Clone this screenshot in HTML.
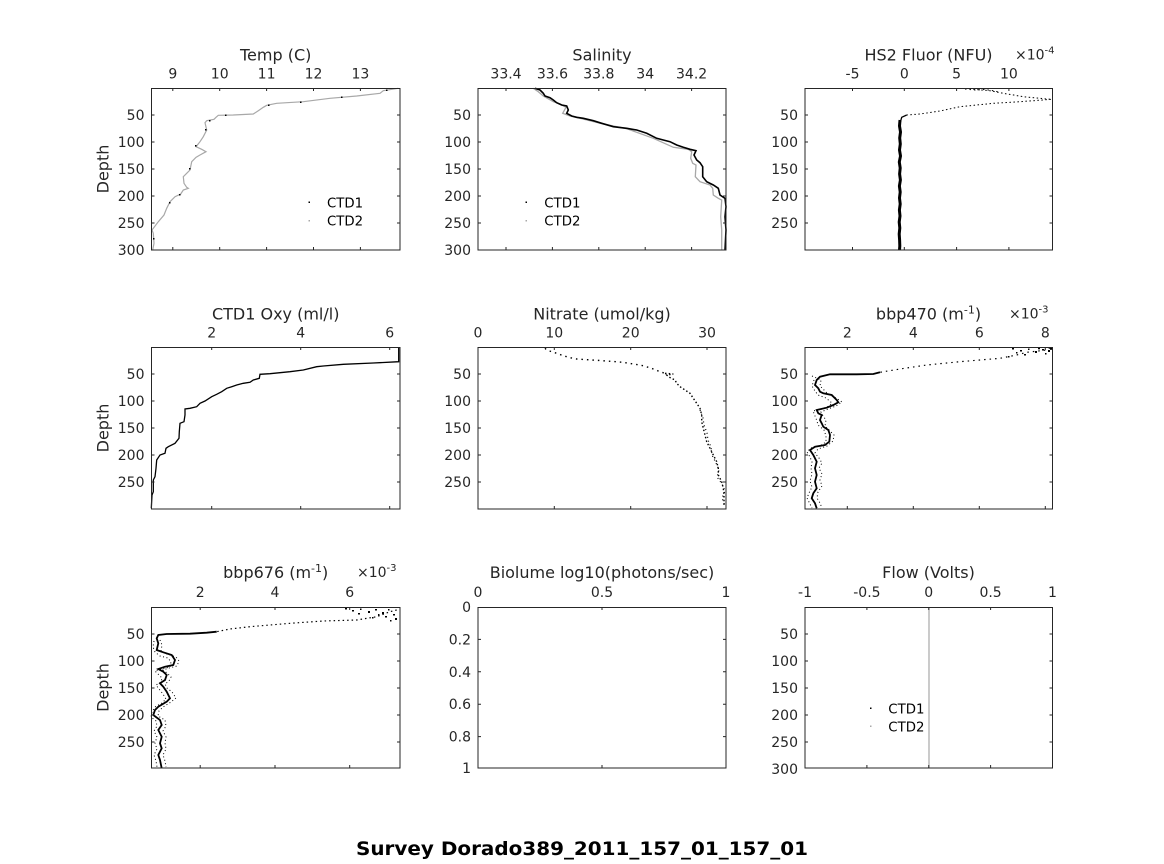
<!DOCTYPE html>
<html>
<head>
<meta charset="utf-8">
<style>
html,body{margin:0;padding:0;background:#fff;}
svg{display:block;}
text{font-family:"DejaVu Sans","Liberation Sans",sans-serif;fill:#262626;}
</style>
</head>
<body>
<svg width="1164" height="864" viewBox="0 0 1164 864" xmlns="http://www.w3.org/2000/svg">
<rect width="1164" height="864" fill="#fff"/>

<!-- ================= ROW 1 ================= -->
<!-- Temp -->
<polyline fill="none" stroke="#a8a8a8" stroke-width="1.2" points="398.3,88.3 383.3,90.7 380,93.3 356.7,96 330,98.3 303.3,101.7 276.7,103.3 266.7,105.3 263.3,107.3 258.3,110.7 253.3,114 233.3,115 218.3,115.3 216,117.3 214,119.3 206.7,120.7 205,122.7 206.7,130 203.3,136.7 200,141.7 196,146.7 201.7,149.3 206,151.7 200,155 196,157.3 191.7,161.7 190,170 186.7,173.3 183.3,176.7 184,183.3 186.7,187.3 188.3,188.3 183.3,190 180.7,194 175,196.7 170,201.7 166.7,208.3 164,215 158.3,221.7 153.3,228.3 152,230 153.3,233.3 154,243.3 152.7,250"/>
<g fill="#000">
<rect x="386" y="89.5" width="1.5" height="1.5"/><rect x="341" y="96.5" width="1.5" height="1.5"/><rect x="300" y="101.5" width="1.5" height="1.5"/><rect x="268" y="104.5" width="1.5" height="1.5"/><rect x="225" y="114.5" width="1.5" height="1.5"/><rect x="209" y="120" width="1.5" height="1.5"/><rect x="205" y="129" width="1.5" height="1.5"/><rect x="195" y="145" width="1.5" height="1.5"/><rect x="189" y="168" width="1.5" height="1.5"/><rect x="179" y="194" width="1.5" height="1.5"/><rect x="169" y="202" width="1.5" height="1.5"/><rect x="153" y="238" width="1.5" height="1.5"/>
</g>
<rect x="151.5" y="88.5" width="248.5" height="161.5" fill="none" stroke="#262626" stroke-width="1"/>
<path stroke="#262626" stroke-width="1" fill="none" d="M172.8 88v3M219.7 88v3M266.6 88v3M313.5 88v3M360.4 88v3M172.8 250v-3M219.7 250v-3M266.6 250v-3M313.5 250v-3M360.4 250v-3M151.5 115h3M151.5 142h3M151.5 169h3M151.5 196h3M151.5 223h3M400 115h-3M400 142h-3M400 169h-3M400 196h-3M400 223h-3"/>
<text x="275.7" y="60.5" font-size="16" text-anchor="middle">Temp (C)</text>
<g font-size="14" text-anchor="middle">
<text x="172.8" y="78.3">9</text><text x="219.7" y="78.3">10</text><text x="266.6" y="78.3">11</text><text x="313.5" y="78.3">12</text><text x="360.4" y="78.3">13</text>
</g>
<g font-size="14" text-anchor="end">
<text x="144.5" y="120">50</text><text x="144.5" y="147">100</text><text x="144.5" y="174">150</text><text x="144.5" y="201">200</text><text x="144.5" y="228">250</text><text x="144.5" y="255">300</text>
</g>
<text transform="translate(108.5,169) rotate(-90)" font-size="16" text-anchor="middle">Depth</text>
<rect x="308.5" y="201.5" width="1.5" height="1.5" fill="#000"/>
<rect x="308.5" y="220" width="1.5" height="1.5" fill="#a8a8a8"/>
<text x="327" y="207.3" font-size="13.3" style="fill:#000">CTD1</text>
<text x="327" y="225.3" font-size="13.3" style="fill:#000">CTD2</text>

<!-- Salinity -->
<polyline fill="none" stroke="#a8a8a8" stroke-width="1.3" points="533.3,88.3 538.3,91.7 543.3,96 553.3,101.7 560,104 566,107.3 562.7,113.3 570,116 580,118.3 600,123.3 626.7,128.7 653.3,138.3 673.3,147.3 688.3,149.3 691.7,151.7 690.7,158.3 692.7,163.3 696,165 695.3,176.7 700,181.7 710,185 712.7,188.3 713.3,195 718.3,198.3 721.7,200 720.7,216.7 721.7,230 721.7,250"/>
<polyline fill="none" stroke="#000" stroke-width="1.6" points="535,88.3 540,90 543.3,93.3 545,96 550,97.7 553.3,100 556.7,102.7 561.7,105 566.7,106 568.3,110 566.7,113.3 571.7,116 576.7,117.3 583.3,118.3 593.3,120.7 601.7,123.3 613.3,126.7 626.7,128.3 636.7,130 646.7,133.3 656.7,138.3 663.3,140 670,141.7 676.7,145 683.3,147.3 690,149.3 696,150.7 694,155 696.7,160 700,162.7 702.7,166.7 702.7,176.7 706.7,181.7 713.3,185 718.3,188.3 720,195 725,198.3 726,206.7 725,216.7 726,230 725,250"/>
<rect x="478" y="88.5" width="248" height="161.5" fill="none" stroke="#262626" stroke-width="1"/>
<path stroke="#262626" stroke-width="1" fill="none" d="M506 88v3M552.4 88v3M598.8 88v3M645.2 88v3M691.6 88v3M506 250v-3M552.4 250v-3M598.8 250v-3M645.2 250v-3M691.6 250v-3M478 115h3M478 142h3M478 169h3M478 196h3M478 223h3M726 115h-3M726 142h-3M726 169h-3M726 196h-3M726 223h-3"/>
<text x="602" y="60.5" font-size="16" text-anchor="middle">Salinity</text>
<g font-size="14" text-anchor="middle">
<text x="506" y="78.3">33.4</text><text x="552.4" y="78.3">33.6</text><text x="598.8" y="78.3">33.8</text><text x="645.2" y="78.3">34</text><text x="691.6" y="78.3">34.2</text>
</g>
<g font-size="14" text-anchor="end">
<text x="471" y="120">50</text><text x="471" y="147">100</text><text x="471" y="174">150</text><text x="471" y="201">200</text><text x="471" y="228">250</text><text x="471" y="255">300</text>
</g>
<rect x="525.5" y="201.5" width="1.5" height="1.5" fill="#000"/>
<rect x="525.5" y="220" width="1.5" height="1.5" fill="#a8a8a8"/>
<text x="544.3" y="207.3" font-size="13.3" style="fill:#000">CTD1</text>
<text x="544.3" y="225.3" font-size="13.3" style="fill:#000">CTD2</text>

<!-- HS2 Fluor -->
<polyline fill="none" stroke="#000" stroke-width="1" stroke-dasharray="1.5 2.5" points="973.3,89.3 990,90.7 1003.3,93.3 1023.3,96.7 1046.7,99 1051.7,99.3 1033.3,100.7 1020,101.7 993.3,103.3 960,106.7 940,111 920,114 906.7,115"/>
<polyline fill="none" stroke="#000" stroke-width="1" stroke-dasharray="1.5 3" points="965,89 975,90 985,89.5 995,91 1000,92.5"/>
<polyline fill="none" stroke="#000" stroke-width="1.3" points="906.7,115 901.7,117.3 900,123.3"/>
<polyline fill="none" stroke="#000" stroke-width="3" points="900,120 899.5,126 900.5,132 899.7,138 900.3,144 899.5,150 900.5,156 899.3,162 900.2,168 899.6,174 900.4,180 899.4,186 900.2,192 899.5,198 900.2,204 899.4,210 900,216 899.2,222 899.8,228 899.2,234 899.6,240 899.8,246 899.5,250"/>
<rect x="805" y="88.5" width="247.5" height="161.5" fill="none" stroke="#262626" stroke-width="1"/>
<path stroke="#262626" stroke-width="1" fill="none" d="M852.5 88v3M904.3 88v3M956.6 88v3M1008.9 88v3M852.5 250v-3M904.3 250v-3M956.6 250v-3M1008.9 250v-3M805 115h3M805 142h3M805 169h3M805 196h3M805 223h3M1052.5 115h-3M1052.5 142h-3M1052.5 169h-3M1052.5 196h-3M1052.5 223h-3"/>
<text x="928.5" y="60.5" font-size="16" text-anchor="middle">HS2 Fluor (NFU)</text>
<text x="1015" y="59.5" font-size="14">×10<tspan font-size="10" dy="-6">-4</tspan></text>
<g font-size="14" text-anchor="middle">
<text x="852.5" y="78.3">-5</text><text x="904.3" y="78.3">0</text><text x="956.6" y="78.3">5</text><text x="1008.9" y="78.3">10</text>
</g>
<g font-size="14" text-anchor="end">
<text x="798" y="120">50</text><text x="798" y="147">100</text><text x="798" y="174">150</text><text x="798" y="201">200</text><text x="798" y="228">250</text>
</g>

<!-- ================= ROW 2 ================= -->
<!-- CTD1 Oxy -->
<polyline fill="none" stroke="#000" stroke-width="1.3" points="398.7,347.7 398.7,361.7 373.3,363 343.3,364.3 323.3,366 316.7,366.7 303.3,370 290,371.7 270,373.7 260,374.3 259.3,378.3 253.3,380 250,382.3 243.3,383.3 236.7,385 231.7,386.7 226.7,388.3 221.7,391.7 216.7,394.3 211.7,396.7 205,401 200,403.3 196.7,406.7 190,408.3 185,409 185,415 184,421.7 180,423.3 179.3,431.7 179,438.3 175,443.3 168.3,446.7 166,448.3 165,453.3 160,455 156.7,460 156,468.3 155,476.7 153.3,480 153.3,491.7 152,495 151.3,508.3"/>
<rect x="151.5" y="347.5" width="248.5" height="161.5" fill="none" stroke="#262626" stroke-width="1"/>
<path stroke="#262626" stroke-width="1" fill="none" d="M211.7 347v3M300.7 347v3M389.7 347v3M211.7 509v-3M300.7 509v-3M389.7 509v-3M151.5 374h3M151.5 401h3M151.5 428h3M151.5 455h3M151.5 482h3M400 374h-3M400 401h-3M400 428h-3M400 455h-3M400 482h-3"/>
<text x="275.7" y="319.5" font-size="16" text-anchor="middle">CTD1 Oxy (ml/l)</text>
<g font-size="14" text-anchor="middle">
<text x="211.7" y="337.5">2</text><text x="300.7" y="337.5">4</text><text x="389.7" y="337.5">6</text>
</g>
<g font-size="14" text-anchor="end">
<text x="144.5" y="379">50</text><text x="144.5" y="406">100</text><text x="144.5" y="433">150</text><text x="144.5" y="460">200</text><text x="144.5" y="487">250</text>
</g>
<text transform="translate(108.5,428) rotate(-90)" font-size="16" text-anchor="middle">Depth</text>

<!-- Nitrate -->
<polyline fill="none" stroke="#000" stroke-width="1.4" stroke-dasharray="1.5 4" points="545,348.3 546.7,350 551.7,351.7 556.7,353.3 563.3,355.7 570,357.7 576.7,359 596.7,360.3 606.7,361 623.3,362.3 633.3,364 643.3,365.7 653.3,369 660,371.7 665,373.3"/>
<polyline fill="none" stroke="#000" stroke-width="1.4" stroke-dasharray="1.5 2.2" points="665,373.3 673.3,374 666.7,375 668.3,376.7 675,380 676.7,383.3 680,386.7 685,390 690,393.3 693.3,398.3 696.7,403.3 700,408.3 701.7,415 701.7,421.7 703.3,428.3 705,435 706.7,441.7 710,448.3 713.3,455 716.7,461.7 718.3,468.3 718.3,475 721.7,481.7 723.3,488.3 724,495 724,505"/>
<polyline fill="none" stroke="#000" stroke-width="1.2" stroke-dasharray="1 3" points="700,410 703,418 704,425 707,433 708,440 711,447 712,455 716,463 719,470 717,477 722,484 725,491 722,498 725,506"/>
<rect x="478" y="347.5" width="248" height="161.5" fill="none" stroke="#262626" stroke-width="1"/>
<path stroke="#262626" stroke-width="1" fill="none" d="M554.3 347v3M630.7 347v3M707 347v3M554.3 509v-3M630.7 509v-3M707 509v-3M478 374h3M478 401h3M478 428h3M478 455h3M478 482h3M726 374h-3M726 401h-3M726 428h-3M726 455h-3M726 482h-3"/>
<text x="602" y="319.5" font-size="16" text-anchor="middle">Nitrate (umol/kg)</text>
<g font-size="14" text-anchor="middle">
<text x="478" y="337.5">0</text><text x="554.3" y="337.5">10</text><text x="630.7" y="337.5">20</text><text x="707" y="337.5">30</text>
</g>
<g font-size="14" text-anchor="end">
<text x="471" y="379">50</text><text x="471" y="406">100</text><text x="471" y="433">150</text><text x="471" y="460">200</text><text x="471" y="487">250</text>
</g>

<!-- bbp470 -->
<g fill="#000">
<rect x="1012" y="348" width="2" height="1.5"/><rect x="1020" y="350" width="2" height="1.5"/><rect x="1028" y="348.5" width="1.5" height="1.5"/><rect x="1035" y="351" width="2" height="2"/><rect x="1042" y="349" width="2" height="1.5"/><rect x="1048" y="350" width="2" height="2"/><rect x="1016" y="352" width="1.5" height="1.5"/><rect x="1024" y="354" width="2" height="1.5"/><rect x="1038" y="347.8" width="2" height="1.5"/><rect x="1045" y="353" width="1.5" height="1.5"/><rect x="1050" y="347.8" width="2" height="2"/><rect x="1008" y="356" width="1.5" height="1.5"/>
</g>
<polyline fill="none" stroke="#000" stroke-width="1.2" stroke-dasharray="1.5 4" points="1050,347.7 1046.7,350 1026.7,352.3 1016.7,355 1000,358.3 960,361.7 926.7,365 900,369 880,372.3"/>
<polyline fill="none" stroke="#000" stroke-width="1.8" points="880,372.3 873.3,374 856.7,374.3 830,374.3 820,376.7 816.7,380 815,385 818.3,388.3 820,391.7 823.3,393.3 831.7,395 836.7,400 838.3,402.3 833.3,405 826.7,407.7 816.7,410 818.3,413.3 821.7,415 820,420 821.7,423.3 823.3,426.7 828.3,430 830,435 829.3,441.7 825,445 815,446.7 810,450 813.3,455 816.7,461.7 815,468.3 816.7,475 815,481.7 816.7,488.3 813.3,493.3 811.7,498.3 815,503.3 816.7,508.3"/>
<polyline fill="none" stroke="#000" stroke-width="1" stroke-dasharray="1 2.5" points="812,376 821,380 820,386 824,390 828,394 836,398 842,402 836,406 828,409 821,412 823,416 826,420 825,426 829,430 834,435 833,441 827,446 818,449 815,453 819,458 822,463 819,468 822,474 820,480 822,486 818,492 817,498 820,503 822,508"/>
<polyline fill="none" stroke="#000" stroke-width="1" stroke-dasharray="1 2.5" points="814,380 812,386 815,391 818,395 826,398 832,403 829,406 822,409 813,411 815,416 817,421 818,425 824,430 826,436 826,442 820,446 811,448 807,452 810,457 812,462 811,468 812,474 810,481 812,487 809,493 807,498 810,504 812,508"/>
<rect x="805" y="347.5" width="247.5" height="161.5" fill="none" stroke="#262626" stroke-width="1"/>
<path stroke="#262626" stroke-width="1" fill="none" d="M847.3 347v3M913.3 347v3M979.3 347v3M1045.3 347v3M847.3 509v-3M913.3 509v-3M979.3 509v-3M1045.3 509v-3M805 374h3M805 401h3M805 428h3M805 455h3M805 482h3M1052.5 374h-3M1052.5 401h-3M1052.5 428h-3M1052.5 455h-3M1052.5 482h-3"/>
<text x="928.5" y="319.5" font-size="16" text-anchor="middle">bbp470 (m<tspan font-size="11" dy="-6">-1</tspan><tspan dy="6">)</tspan></text>
<text x="1009" y="318.5" font-size="14">×10<tspan font-size="10" dy="-6">-3</tspan></text>
<g font-size="14" text-anchor="middle">
<text x="847.3" y="337.5">2</text><text x="913.3" y="337.5">4</text><text x="979.3" y="337.5">6</text><text x="1045.3" y="337.5">8</text>
</g>
<g font-size="14" text-anchor="end">
<text x="798" y="379">50</text><text x="798" y="406">100</text><text x="798" y="433">150</text><text x="798" y="460">200</text><text x="798" y="487">250</text>
</g>

<!-- ================= ROW 3 ================= -->
<!-- bbp676 -->
<g fill="#000">
<rect x="345" y="608" width="2" height="1.5"/><rect x="352" y="610" width="2" height="1.5"/><rect x="360" y="608.5" width="1.5" height="1.5"/><rect x="368" y="611" width="2" height="2"/><rect x="375" y="609" width="2" height="1.5"/><rect x="382" y="612" width="2" height="2"/><rect x="388" y="609" width="1.5" height="1.5"/><rect x="393" y="614" width="2" height="1.5"/><rect x="385" y="616" width="2" height="1.5"/><rect x="378" y="614" width="1.5" height="1.5"/><rect x="395" y="618" width="2" height="2"/><rect x="372" y="617" width="1.5" height="1.5"/><rect x="358" y="613" width="2" height="1.5"/><rect x="390" y="620" width="1.5" height="1.5"/>
</g>
<polyline fill="none" stroke="#000" stroke-width="1.2" stroke-dasharray="1.5 3" points="396.7,610 390,611.7 376.7,616.7 356.7,620 323.3,621 290,623.3 270,625 250,626.7 230,629 216.7,631.7"/>
<polyline fill="none" stroke="#000" stroke-width="1.8" points="216.7,631.7 206.7,632.7 190,633.7 166.7,634 158.3,635 156.7,638.3 158.3,643.3 156.7,650 163.3,652.3 171.7,655 175,660 173.3,665 165,666.7 158.3,669 163.3,671.7 166.7,675 165,680 160,683.3 163.3,686.7 166.7,691.7 170,698.3 166.7,701.7 158.3,706.7 155,710 153.3,715 160,720 161.7,725 158.3,730 161.7,736.7 160,743.3 161.7,748.3 158.3,755 160,760 161.7,768.3"/>
<polyline fill="none" stroke="#000" stroke-width="1" stroke-dasharray="1 2.5" points="160,640 162,645 161,651 167,654 176,657 179,661 177,666 169,668 163,670 167,673 171,677 169,681 165,684 167,688 172,692 176,698 171,702 163,707 159,711 158,716 165,720 166,726 163,731 166,737 165,743 166,749 163,755 165,761 166,767"/>
<polyline fill="none" stroke="#000" stroke-width="1" stroke-dasharray="1 2.5" points="154,641 153,647 155,652 160,656 168,658 171,662 170,667 161,669 155,671 158,674 162,678 161,682 156,685 159,689 163,694 166,699 162,703 155,707 152,712 151,717 156,721 157,726 154,731 157,737 155,743 157,749 154,755 156,761 157,767"/>
<rect x="151.5" y="607.5" width="248.5" height="160.5" fill="none" stroke="#262626" stroke-width="1"/>
<path stroke="#262626" stroke-width="1" fill="none" d="M200.2 607v3M275 607v3M349.7 607v3M200.2 768v-3M275 768v-3M349.7 768v-3M151.5 634h3M151.5 661h3M151.5 688h3M151.5 715h3M151.5 742h3M400 634h-3M400 661h-3M400 688h-3M400 715h-3M400 742h-3"/>
<text x="275.7" y="578" font-size="16" text-anchor="middle">bbp676 (m<tspan font-size="11" dy="-6">-1</tspan><tspan dy="6">)</tspan></text>
<text x="357" y="577" font-size="14">×10<tspan font-size="10" dy="-6">-3</tspan></text>
<g font-size="14" text-anchor="middle">
<text x="200.2" y="597">2</text><text x="275" y="597">4</text><text x="349.7" y="597">6</text>
</g>
<g font-size="14" text-anchor="end">
<text x="144.5" y="639">50</text><text x="144.5" y="666">100</text><text x="144.5" y="693">150</text><text x="144.5" y="720">200</text><text x="144.5" y="747">250</text>
</g>
<text transform="translate(108.5,687.5) rotate(-90)" font-size="16" text-anchor="middle">Depth</text>

<!-- Biolume -->
<rect x="478" y="607.5" width="248" height="160.5" fill="none" stroke="#262626" stroke-width="1"/>
<path stroke="#262626" stroke-width="1" fill="none" d="M602 607v3M602 768v-3M478 639.4h3M478 671.8h3M478 704.2h3M478 736.6h3M726 639.4h-3M726 671.8h-3M726 704.2h-3M726 736.6h-3"/>
<text x="602" y="578" font-size="16" text-anchor="middle">Biolume log10(photons/sec)</text>
<g font-size="14" text-anchor="middle">
<text x="478" y="597">0</text><text x="602" y="597">0.5</text><text x="726" y="597">1</text>
</g>
<g font-size="14" text-anchor="end">
<text x="471" y="612">0</text><text x="471" y="644.4">0.2</text><text x="471" y="676.8">0.4</text><text x="471" y="709.2">0.6</text><text x="471" y="741.6">0.8</text><text x="471" y="773">1</text>
</g>

<!-- Flow -->
<line x1="929" y1="607" x2="929" y2="768" stroke="#a8a8a8" stroke-width="1.2"/>
<rect x="805" y="607.5" width="247.5" height="160.5" fill="none" stroke="#262626" stroke-width="1"/>
<path stroke="#262626" stroke-width="1" fill="none" d="M866.9 607v3M928.75 607v3M990.6 607v3M866.9 768v-3M928.75 768v-3M990.6 768v-3M805 634h3M805 661h3M805 688h3M805 715h3M805 742h3M1052.5 634h-3M1052.5 661h-3M1052.5 688h-3M1052.5 715h-3M1052.5 742h-3"/>
<text x="928.5" y="578" font-size="16" text-anchor="middle">Flow (Volts)</text>
<g font-size="14" text-anchor="middle">
<text x="805" y="597">-1</text><text x="866.9" y="597">-0.5</text><text x="928.75" y="597">0</text><text x="990.6" y="597">0.5</text><text x="1052.5" y="597">1</text>
</g>
<g font-size="14" text-anchor="end">
<text x="798" y="639">50</text><text x="798" y="666">100</text><text x="798" y="693">150</text><text x="798" y="720">200</text><text x="798" y="747">250</text><text x="798" y="774">300</text>
</g>
<rect x="870" y="707.5" width="1.5" height="1.5" fill="#000"/>
<rect x="870" y="725.5" width="1.5" height="1.5" fill="#a8a8a8"/>
<text x="888.3" y="713.3" font-size="13.3" style="fill:#000">CTD1</text>
<text x="888.3" y="731.3" font-size="13.3" style="fill:#000">CTD2</text>

<!-- Figure title -->
<text x="582" y="855" font-size="19" font-weight="bold" text-anchor="middle" textLength="452" lengthAdjust="spacingAndGlyphs" style="fill:#000">Survey Dorado389_2011_157_01_157_01</text>
</svg>
</body>
</html>
